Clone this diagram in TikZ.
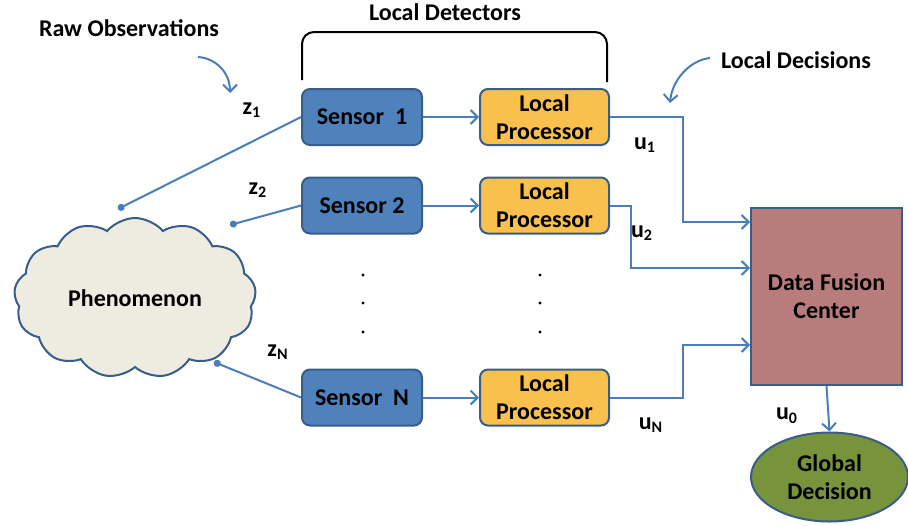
\documentclass[tikz,border=0pt]{standalone}
\usepackage{fontspec}
\setmainfont{Carlito}
\usetikzlibrary{positioning,shapes.symbols,shapes.geometric,arrows.meta}
\definecolor{sensblue}{HTML}{4F81BD}
\definecolor{sensedge}{HTML}{385D8A}
\definecolor{procorange}{HTML}{FAC04D}
\definecolor{fusionred}{HTML}{B97C7C}
\definecolor{globgreen}{HTML}{77933C}
\definecolor{cloudfill}{HTML}{EEECE1}
\definecolor{wireblue}{HTML}{4A7EBB}

\tikzset{
  sensor/.style={draw=sensedge, fill=sensblue, rounded corners=4pt, line width=1pt,
    minimum width=60pt, minimum height=28pt, font=\fontsize{12}{14}\selectfont\bfseries},
  proc/.style={draw=sensedge, fill=procorange, rounded corners=4pt, line width=1pt,
    minimum width=64.5pt, minimum height=28pt, inner sep=0pt, align=center,
    font=\fontsize{12}{14}\selectfont\bfseries},
  lab/.style={font=\fontsize{12}{14}\selectfont\bfseries},
  wire/.style={draw=wireblue, line width=1pt},
  link/.style={wire, -{Straight Barb[length=3.5pt,width=7pt]}},
  tap/.style={wire, {Circle[length=3.5pt]}-}
}

\begin{document}
\begin{tikzpicture}[x=0.5pt,y=-0.5pt]
  \useasboundingbox (0,0) rectangle (908,525);

  % sensors and local processors
  \node[sensor] (s1) at (362,117) {Sensor\ \ 1};
  \node[sensor] (s2) at (362,205.5) {Sensor 2};
  \node[sensor] (sN) at (362,397.5) {Sensor\ \ N};
  \node[proc, right=28pt of s1] (p1) {Local\\Processor};
  \node[proc, right=28pt of s2] (p2) {Local\\Processor};
  \node[proc, right=28pt of sN] (pN) {Local\\Processor};
  \foreach \yy in {275,303,332}{
    \fill (363,\yy) circle (0.8pt);
    \fill (540,\yy) circle (0.8pt);}

  % fusion center and global decision
  \node[draw=sensedge, fill=fusionred, line width=1pt, minimum width=75.5pt,
    minimum height=88.5pt, align=center, lab] (dfc) at (826.5,296.5) {Data Fusion\\Center};
  \node[ellipse, draw=sensedge, fill=globgreen, line width=1pt, minimum width=78.5pt,
    minimum height=44.5pt, inner sep=0pt, align=center, lab] (gd) at (829.5,477) {Global\\Decision};

  % phenomenon
  \node[cloud, cloud puffs=13, cloud puff arc=100, cloud ignores aspect, draw=sensedge,
    fill=cloudfill, line width=1pt, minimum width=121pt, minimum height=80pt, lab]
    (phen) at (135,298) {Phenomenon};
  \coordinate (o1) at (118,209);
  \coordinate (o2) at (230,225);
  \coordinate (oN) at (214,362);

  % observations
  \draw[tap] (o1) -- (s1.west);
  \draw[tap] (o2) -- (s2.west);
  \draw[tap] (oN) -- (sN.west);
  \draw[link] (s1) -- (p1);
  \draw[link] (s2) -- (p2);
  \draw[link] (sN) -- (pN);

  % decisions
  \draw[link] (p1.east) -- ++(73,0) |- (dfc.west |- 0,222);
  \draw[link] (p2.east) -- ++(21,0) |- (dfc.west |- 0,268);
  \draw[link] (pN.east) -- ++(73,0) |- (dfc.west |- 0,345);
  \draw[link] (dfc.south) -- (gd.north);

  % labels
  \node[lab] (lz1) at (252,110) {z\textsubscript{1}};
  \node[lab] (lz2) at (258,190) {z\textsubscript{2}};
  \node[lab] (lzN) at (278,352) {z\textsubscript{N}};
  \node[lab] (lu1) at (645,145) {u\textsubscript{1}};
  \node[lab] (lu2) at (642,233) {u\textsubscript{2}};
  \node[lab] (luN) at (651,425) {u\textsubscript{N}};
  \node[lab] (lu0) at (787,416) {u\textsubscript{0}};

  \node[lab] (raw) at (129,28) {Raw Observations};
  \node[lab] (det) at (445,12) {Local Detectors};
  \node[lab] (dec) at (796,60) {Local Decisions};
  \draw[link] (198,57) .. controls (215,58) and (230,72) .. (230,93);
  \draw[link] (710,58) .. controls (690,60) and (672,80) .. (670,103);
  \draw[line width=1pt, rounded corners=6pt] (302,80) -- (302,32) -- (607,32) -- (607,82);
\end{tikzpicture}
\end{document}
